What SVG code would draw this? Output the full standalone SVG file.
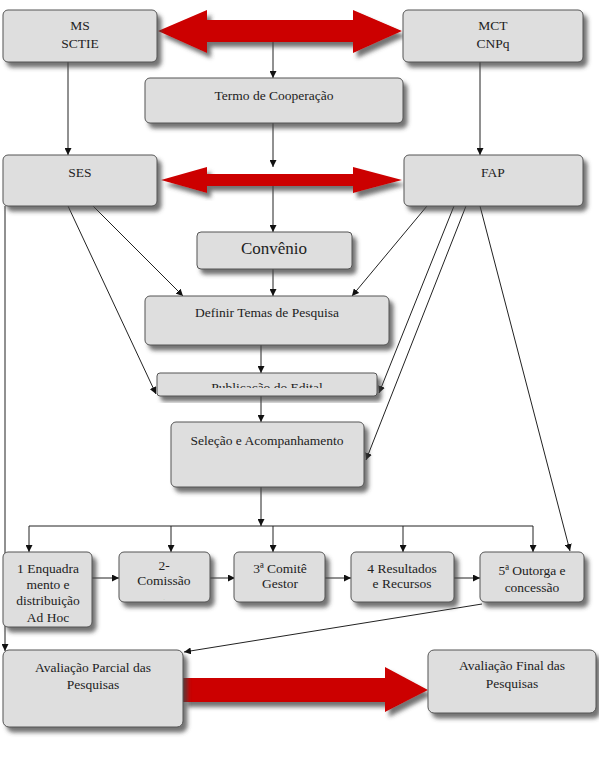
<svg xmlns="http://www.w3.org/2000/svg" width="599" height="765" viewBox="0 0 599 765">
<style>
.box{fill:#dedede;stroke:#555;stroke-width:1;filter:url(#sh)}
text{font-family:'Liberation Serif','Times New Roman',Times,'DejaVu Serif',serif}
.t{font-size:13.5px;fill:#222;text-anchor:middle}
.c{fill:none;stroke:#222;stroke-width:1;marker-end:url(#ah)}
.l{fill:none;stroke:#222;stroke-width:1}
.red{fill:#cc0000;filter:url(#sh)}
</style>
<defs>
<filter id="sh" x="-10%" y="-10%" width="130%" height="140%">
<feDropShadow dx="4" dy="5" stdDeviation="2" flood-color="#444" flood-opacity="0.75"/>
</filter>
<marker id="ah" viewBox="0 0 10 10" refX="10" refY="5" markerWidth="7" markerHeight="7" orient="auto" markerUnits="userSpaceOnUse">
<path d="M0,0 L10,5 L0,10 z" fill="#111"/>
</marker>
<clipPath id="cpPub"><rect x="157" y="373" width="220" height="15"/></clipPath>
<clipPath id="cp1"><rect x="3" y="552" width="89" height="74"/></clipPath>
<clipPath id="cp2"><rect x="119" y="552" width="91" height="48"/></clipPath>
</defs>

<g id="connectors">
<path class="c" d="M273,42 V78"/>
<path class="c" d="M68,62 V155"/>
<path class="c" d="M480,62 V155"/>
<path class="c" d="M273,123 V167"/>
<path class="c" d="M273,186 V232"/>
<path class="c" d="M273,269 V296"/>
<path class="c" d="M261,345 V373"/>
<path class="c" d="M261,396 V422"/>
<path class="c" d="M261,487 V526"/>
<path class="l" d="M29,526 H533"/>
<path class="c" d="M29,526 V552"/>
<path class="c" d="M171,526 V552"/>
<path class="c" d="M273,526 V552"/>
<path class="c" d="M403,526 V552"/>
<path class="c" d="M533,526 V552"/>
<path class="c" d="M92,578 H119"/>
<path class="c" d="M210,578 H235"/>
<path class="c" d="M325,578 H351"/>
<path class="c" d="M454,578 H480"/>
<path class="c" d="M5,206 V651"/>
<path class="c" d="M482,604 L184,652"/>
<path class="c" d="M68,206 L156,394"/>
<path class="c" d="M93,206 L183,296"/>
<path class="c" d="M427,206 L352,296"/>
<path class="c" d="M454,206 L379,393"/>
<path class="c" d="M466,206 L366,460"/>
<path class="c" d="M480,206 L570,551"/>
</g>

<g id="red-arrows">
<polygon class="red" points="158,31 207,10 207,20 353,20 353,10 402,31 353,53 353,42 207,42 207,53"/>
<polygon class="red" points="161,180 207,167 207,174 353,174 353,167 402,180 353,193 353,186 207,186 207,193"/>
<polygon class="red" points="183,678 385,678 385,667 428,690 385,712 385,702 183,702"/>
</g>

<g id="ms-sctie"><rect class="box" x="3" y="10" width="154" height="52" rx="5"/><text class="t" x="80" y="30">MS</text><text class="t" x="80" y="48">SCTIE</text></g>
<g id="mct-cnpq"><rect class="box" x="403" y="10" width="180" height="52" rx="5"/><text class="t" x="493" y="30">MCT</text><text class="t" x="493" y="48">CNPq</text></g>
<g id="termo"><rect class="box" x="145" y="78" width="258" height="45" rx="5"/><text class="t" x="274" y="100">Termo de Cooperação</text></g>
<g id="ses"><rect class="box" x="3" y="155" width="154" height="51" rx="5"/><text class="t" x="80" y="177">SES</text></g>
<g id="fap"><rect class="box" x="404" y="155" width="179" height="51" rx="5"/><text class="t" x="493" y="177">FAP</text></g>
<g id="convenio"><rect class="box" x="197" y="232" width="155" height="37" rx="4"/><text class="t" x="274" y="254" style="font-size:17px">Convênio</text></g>
<g id="definir"><rect class="box" x="145" y="296" width="244" height="49" rx="5"/><text class="t" x="267" y="317">Definir Temas de Pesquisa</text></g>
<g id="publicacao"><rect class="box" x="157" y="373" width="220" height="23" rx="3"/><text class="t" x="267" y="392" clip-path="url(#cpPub)">Publicação do Edital</text></g>
<g id="selecao"><rect class="box" x="171" y="422" width="193" height="65" rx="5"/><text class="t" x="267" y="445">Seleção e Acompanhamento</text></g>
<g id="n1"><rect class="box" x="3" y="552" width="89" height="75" rx="5"/><g clip-path="url(#cp1)"><text class="t" x="48" y="573">1 Enquadra</text><text class="t" x="48" y="589">mento e</text><text class="t" x="48" y="605">distribuição</text><text class="t" x="48" y="622">Ad Hoc</text></g></g>
<g id="n2"><rect class="box" x="119" y="552" width="91" height="50" rx="5"/><g clip-path="url(#cp2)"><text class="t" x="164" y="570">2-</text><text class="t" x="164" y="585">Comissão</text><text class="t" x="164" y="601" style="font-size:10px">.</text></g></g>
<g id="n3"><rect class="box" x="234" y="552" width="91" height="50" rx="5"/><text class="t" x="280" y="573">3ª Comitê</text><text class="t" x="280" y="588">Gestor</text></g>
<g id="n4"><rect class="box" x="351" y="552" width="103" height="50" rx="5"/><text class="t" x="402" y="573">4 Resultados</text><text class="t" x="402" y="588">e Recursos</text></g>
<g id="n5"><rect class="box" x="480" y="552" width="104" height="50" rx="5"/><text class="t" x="532" y="575">5ª Outorga e</text><text class="t" x="532" y="592">concessão</text></g>
<g id="parcial"><rect class="box" x="3" y="650" width="180" height="77" rx="6"/><text class="t" x="93" y="672">Avaliação Parcial das</text><text class="t" x="93" y="689">Pesquisas</text></g>
<g id="final"><rect class="box" x="428" y="650" width="168" height="63" rx="6"/><text class="t" x="512" y="670">Avaliação Final das</text><text class="t" x="512" y="688">Pesquisas</text></g>
</svg>
